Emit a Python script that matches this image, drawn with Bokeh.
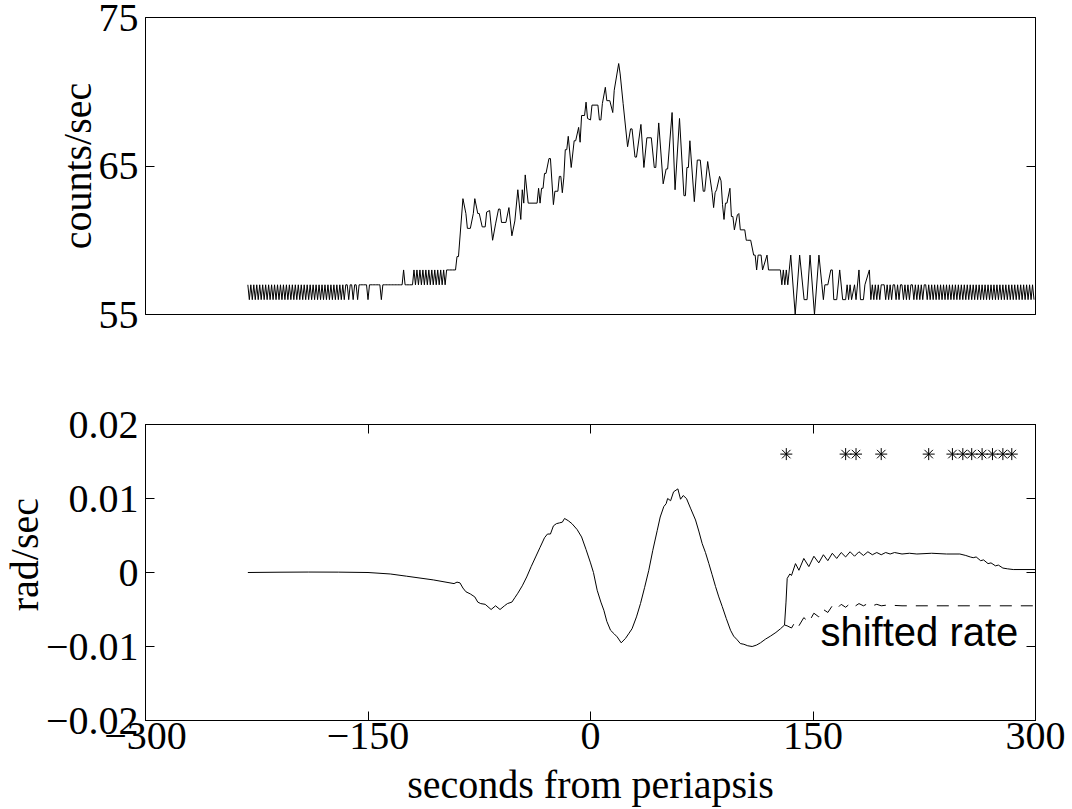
import numpy as np
from bokeh.plotting import figure
from bokeh.layouts import column, row
from bokeh.models import LinearAxis, FixedTicker, Range1d
from bokeh.core.properties import value
from bokeh.embed import file_html
from bokeh.resources import INLINE

SERIF = "Liberation Serif"
SANS = "Liberation Sans"

# ---------------- data ----------------
x_ticks = [-300, -150, 0, 150, 300]
x_tick_labels = ["\u2212300", "\u2212150", "0", "150", "300"]
counts_ticks = [55, 65, 75]
counts_tick_labels = ["55", "65", "75"]
rate_ticks = [-0.02, -0.01, 0, 0.01, 0.02]
rate_tick_labels = ["\u22120.02", "\u22120.01", "0", "0.01", "0.02"]

# counts/sec, 1 s samples starting at counts_a_start
counts_a_start = -231
counts_a = [57, 56, 57, 56, 57, 56, 57, 56, 57, 56, 57, 56, 57, 56, 57, 56,
            57, 56, 57, 56, 57, 56, 57, 56, 57, 56, 57, 56, 57, 56, 57, 56,
            57, 56, 57, 56, 57, 56, 57, 56, 57, 56, 57, 56, 57, 56, 57, 56,
            57, 56, 57, 56, 57, 56, 57, 56, 57, 56, 57, 56, 57, 56, 57, 56,
            57]
# 1 s samples starting at counts_b_start
counts_b_start = -166
counts_b = [56, 57, 57, 56, 57, 57, 56, 57, 57, 56,
            57, 57, 57, 57, 57, 57,
            56,
            57, 57, 57, 57, 57, 57, 57, 57,
            56,
            57, 57, 57, 57, 57, 57, 57, 57, 57, 57, 57, 57, 57, 57,
            58,
            57, 57, 57, 57, 57, 57,
            58, 57, 58, 57, 58, 57, 58, 57, 58, 57, 58, 57, 58, 57, 58, 57,
            58, 57, 58, 57, 58, 57, 58,
            58, 58, 58, 58, 58]
# read vertices (seconds, counts/sec)
counts_mid = [(-91, 58.0), (-90, 58.9), (-89, 58.9), (-86, 62.8), (-84, 61.8), (-83, 60.8),
              (-81, 60.8), (-79, 61.8), (-78, 62.8), (-76, 61.8), (-75, 61.8), (-73, 60.9),
              (-71, 60.9), (-70, 61.9), (-68, 62.0), (-66, 60.0), (-64, 61.1), (-62, 62.1),
              (-61, 62.1), (-60, 61.2), (-57, 61.2), (-55, 62.2), (-53, 60.3), (-51, 61.3),
              (-49, 63.4), (-47, 61.4), (-46, 63.4), (-45, 62.5), (-44, 64.4), (-42, 62.5),
              (-36, 62.5), (-35, 63.5), (-34, 62.5), (-33, 63.5), (-32, 63.5), (-31, 64.5),
              (-30, 64.5), (-28, 65.5), (-27, 65.5), (-25, 62.4), (-24, 63.3), (-22, 63.3),
              (-21, 64.3), (-20, 64.3), (-19, 63.2), (-18, 64.2), (-17, 66.1), (-16, 66.1),
              (-15, 67.0), (-13, 64.9), (-11, 66.7), (-10, 66.7), (-8, 67.6), (-7, 66.6),
              (-6, 68.4), (-4, 68.4), (-3, 69.3), (-2, 68.2), (0, 68.1), (1, 69.1),
              (5, 69.1), (6, 68.1), (7, 68.1), (8, 69.2), (10, 70.3), (11, 69.4),
              (13, 69.4), (15, 68.6), (16, 70.1), (19, 71.9), (20, 71.2), (22, 69.2),
              (25, 66.3), (27, 67.5), (28, 67.5), (30, 65.6), (31, 65.6), (34, 67.8),
              (36, 64.9), (38, 66.9), (41, 66.9), (43, 64.9), (44, 64.9), (46, 67.9),
              (49, 63.8), (51, 64.8), (52, 64.8), (55, 68.6), (57, 63.4), (60, 68.2),
              (63, 63.0), (64, 63.0), (65, 64.9), (66, 64.9), (67, 66.7), (70, 62.6),
              (72, 65.4), (74, 65.4), (76, 63.3), (77, 63.3), (79, 65.3), (82, 63.2),
              (83, 62.2), (84, 63.2), (85, 63.4), (87, 64.3), (88, 64.0), (89, 62.4),
              (90, 61.4), (91, 62.5), (92, 62.5), (94, 63.5), (95, 61.6), (96, 61.6),
              (97, 60.7), (99, 61.7), (100, 61.8), (101, 60.7), (104, 60.7), (105, 60.0),
              (106, 60.0), (108, 60.0), (110, 59.0), (111, 59.0), (112, 58.0), (113, 59.0),
              (115, 59.0), (116, 58.0), (119, 59.0), (120, 58.0), (128, 58.0), (129, 57.0),
              (130, 58.0), (131, 57.0), (132, 58.0), (133, 57.0), (134, 58.0), (135, 59.0),
              (138, 55.0), (141, 59.0), (144, 56.0), (146, 56.0), (148, 59.0), (151, 55.0),
              (154, 59.0), (156, 57.0), (157, 56.0), (158, 57.0), (160, 57.0), (162, 58.0),
              (163, 58.0), (164, 56.0), (166, 56.0), (168, 58.0), (170, 56.0), (172, 56.0),
              (173, 57.0), (174, 56.0), (175, 57.0), (176, 56.0), (178, 57.0), (179, 56.0),
              (181, 58.0), (182, 56.0), (184, 56.0), (185, 57.0), (188, 58.0), (189, 56.0),
              (190, 57.0)]
# 1 s samples starting at counts_e_start
counts_e_start = 191
counts_e = [56, 57, 56, 57, 56, 57, 57, 57, 56, 57,
            56, 57, 56, 57, 57, 56, 57, 56, 57, 57,
            56, 57, 56, 57, 56, 57, 57, 56, 57, 56,
            57, 56, 57, 56, 57, 57, 56, 57, 56, 57,
            56, 57, 56, 57, 56, 57, 56, 57, 56, 57,
            56, 57, 56, 57, 56, 57, 56, 57, 56, 57,
            56, 57, 56, 57, 56, 57, 56, 57, 56, 57,
            56, 57, 56, 57, 56, 57, 56, 57, 56, 57,
            56, 57, 56, 57, 56, 57, 56, 57, 56, 57,
            56, 57, 56, 57, 56, 57, 56, 57, 56, 57,
            56, 57, 56, 57, 56, 57, 56, 57, 56]

# rad/sec, read vertices (seconds, rate)
rate_pts = [(-231, 0.0), (-210, 0.00004), (-190, 0.00006), (-170, 0.00005), (-150, 0.0),
            (-135, -0.0002), (-124, -0.0005), (-106, -0.0010), (-92, -0.0015), (-90, -0.0013),
            (-88, -0.0014), (-86, -0.0021), (-84, -0.0026), (-81, -0.0029), (-78, -0.0033),
            (-76, -0.0040), (-74, -0.0042), (-71, -0.0043), (-67, -0.0050), (-64, -0.0045),
            (-61, -0.0050), (-58, -0.0045), (-56, -0.0042), (-53, -0.0040), (-51, -0.0034),
            (-49, -0.0028), (-46, -0.0018), (-43, -0.0006), (-40, 0.0008), (-37, 0.0021),
            (-34, 0.0034), (-31, 0.0047), (-29, 0.0052), (-27, 0.0052), (-25, 0.0063),
            (-23, 0.0066), (-21, 0.0067), (-19, 0.0068), (-17.5, 0.0073), (-15, 0.0070),
            (-12.5, 0.0066), (-9, 0.0058), (-6, 0.0048), (-3, 0.0031), (0, 0.0013),
            (2, 0.0000), (4.5, -0.0024), (7, -0.0040), (9, -0.0051), (11, -0.0066),
            (13.5, -0.0078), (16, -0.0083), (18, -0.0087), (20.7, -0.0095), (23.6, -0.0089),
            (26, -0.0082), (28, -0.0076), (31, -0.0060), (33.7, -0.0042), (36.5, -0.0020),
            (39.3, 0.0003), (42, 0.0030), (45, 0.0057), (47, 0.0075), (49.4, 0.0089),
            (51, 0.0093), (52, 0.0100), (54, 0.0097), (56, 0.0109), (58.9, 0.0113),
            (60.7, 0.0099), (62.5, 0.0104), (64.7, 0.0100), (67.4, 0.0087), (70.8, 0.0071),
            (73, 0.0056), (75.3, 0.0039), (77.5, 0.0027), (79.8, 0.0012), (82, -0.0003),
            (84.3, -0.0019), (86.5, -0.0033), (88.8, -0.0046), (91.5, -0.0062), (94.4, -0.0078),
            (96.5, -0.0086), (98.9, -0.0091), (101, -0.0096), (103.4, -0.0097), (106, -0.0099),
            (109, -0.0100), (112, -0.0098), (114.6, -0.0095), (118, -0.0090), (121.3, -0.0086),
            (125, -0.0081), (128.1, -0.0076), (130.8, -0.0071), (131.8, -0.0040), (132.6, -0.0008),
            (134.4, -0.0002), (135.5, -0.0004), (138.2, 0.0012), (140.5, 0.0003), (143.8, 0.0019),
            (147.2, 0.0008), (150.6, 0.0022), (153.9, 0.0013), (157, 0.0024), (160, 0.0016),
            (163, 0.0026), (166, 0.0019), (169, 0.0027), (172, 0.0021), (175, 0.0028),
            (178, 0.0022), (181, 0.0028), (184, 0.0023), (187, 0.0028), (190, 0.0024),
            (193, 0.0027), (196, 0.0024), (199, 0.0027), (202, 0.0025), (205, 0.0027),
            (210, 0.0025), (215, 0.0026), (220, 0.0025), (230, 0.0026), (240, 0.0025),
            (249, 0.0025), (253, 0.0023), (256, 0.0021), (258, 0.0020), (260, 0.0021),
            (263, 0.0016), (265, 0.0017), (268, 0.0012), (270, 0.0013), (273, 0.0009),
            (275, 0.0010), (278, 0.0006), (281, 0.0005), (285, 0.0004), (300, 0.0004)]

shifted_pts = [(130.8, -0.0071), (132.5, -0.0072), (135.5, -0.0075), (138.2, -0.0066),
               (140.5, -0.0072), (143.8, -0.0061), (147.2, -0.0067), (150.6, -0.0055),
               (153.9, -0.0060), (157, -0.0050), (160, -0.0054), (163, -0.0045),
               (166, -0.0049), (169, -0.0043), (172, -0.0047), (175, -0.0042),
               (178, -0.0046), (181, -0.0042), (184, -0.0045), (187, -0.0042),
               (190, -0.0045), (193, -0.0043), (196, -0.0045), (200, -0.0044),
               (210, -0.0045), (300, -0.0045)]

star_t = [132, 172, 179, 196, 228, 244, 251, 257, 264, 271, 278, 284]
star_level = 0.016

# ---------------- assemble series ----------------
ta = np.arange(counts_a_start, counts_a_start + len(counts_a))
tb = np.arange(counts_b_start, counts_b_start + len(counts_b))
tm = [p[0] for p in counts_mid]
vm = [p[1] for p in counts_mid]
te = np.arange(counts_e_start, counts_e_start + len(counts_e))
counts_t = np.concatenate([ta, tb, tm, te]).astype(float)
counts_v = np.concatenate([counts_a, counts_b, vm, counts_e]).astype(float)

rate_t = [p[0] for p in rate_pts]
rate_v = [p[1] for p in rate_pts]
sh_t = [p[0] for p in shifted_pts]
sh_v = [p[1] for p in shifted_pts]


def style_axis(ax, ticks, labels, show_labels, standoff=7, label_standoff=0):
    ax.ticker = FixedTicker(ticks=ticks)
    if show_labels:
        ax.major_label_overrides = dict(zip(ticks, labels))
    else:
        ax.major_label_overrides = {t: "" for t in ticks}
    ax.major_tick_in = 9
    ax.major_tick_out = 0
    ax.minor_tick_line_color = None
    ax.minor_tick_in = 0
    ax.minor_tick_out = 0
    ax.axis_line_color = "black"
    ax.axis_line_width = 1
    ax.major_tick_line_color = "black"
    ax.major_tick_line_width = 1
    ax.major_label_text_font = SERIF
    ax.major_label_text_font_size = "40px"
    ax.major_label_text_color = "black"
    ax.major_label_standoff = standoff if show_labels else 0
    ax.axis_label_text_font = SERIF
    ax.axis_label_text_font_size = "40px"
    ax.axis_label_text_font_style = "normal"
    ax.axis_label_text_color = "black"
    ax.axis_label_standoff = label_standoff


# ---------------- top panel ----------------
top = figure(frame_width=890, frame_height=297,
             x_range=Range1d(-300, 300), y_range=Range1d(55, 75),
             x_axis_location=None, y_axis_location="left",
             output_backend="svg", toolbar_location=None,
             min_border_left=145, min_border_right=37,
             min_border_top=17, min_border_bottom=55)
top.grid.visible = False
top.outline_line_color = "black"
top.outline_line_width = 1
top.background_fill_color = "white"
top.border_fill_color = "white"
style_axis(top.left[0], counts_ticks, counts_tick_labels, True, label_standoff=-4)
top.left[0].axis_label = "counts/sec"
r_axis = LinearAxis()
top.add_layout(r_axis, "right")
style_axis(r_axis, counts_ticks, counts_tick_labels, False)
top.line(counts_t, counts_v, line_color="black", line_width=1)

# ---------------- bottom panel ----------------
YLAB_W = 48
OVERLAP = 8
bot = figure(frame_width=890, frame_height=296,
             x_range=Range1d(-300, 300), y_range=Range1d(-0.02, 0.02),
             x_axis_location="below", y_axis_location="left",
             output_backend="svg", toolbar_location=None,
             min_border_left=145 - YLAB_W + OVERLAP, min_border_right=37,
             min_border_top=55, min_border_bottom=50,
             margin=(0, 0, 0, -OVERLAP))
bot.grid.visible = False
bot.outline_line_color = "black"
bot.outline_line_width = 1
bot.background_fill_color = "white"
bot.border_fill_alpha = 0
style_axis(bot.left[0], rate_ticks, rate_tick_labels, True)
style_axis(bot.below[0], x_ticks, x_tick_labels, True, standoff=2, label_standoff=10)
bot.below[0].axis_label = "seconds from periapsis"
ra = LinearAxis()
bot.add_layout(ra, "right")
style_axis(ra, rate_ticks, rate_tick_labels, False)
ta_ax = LinearAxis()
bot.add_layout(ta_ax, "above")
style_axis(ta_ax, x_ticks, x_tick_labels, False)

bot.line(rate_t, rate_v, line_color="black", line_width=1)
bot.line(sh_t, sh_v, line_color="black", line_width=1, line_dash="12 9")
bot.scatter(star_t, [star_level] * len(star_t), marker="asterisk", size=12,
            line_color="black", line_width=1)
bot.text(x=[155], y=[-0.0081], text=["shifted rate"], text_font=value(SANS),
         text_font_size="40px", text_color="black", text_align="left",
         text_baseline="middle")

# y label of the bottom panel, in its own narrow strip left of it
YLAB_H = 401
ylab = figure(width=YLAB_W, height=YLAB_H, x_range=Range1d(0, YLAB_W), y_range=Range1d(0, YLAB_H),
              x_axis_location=None, y_axis_location=None,
              output_backend="svg", toolbar_location=None,
              min_border=0, min_border_left=0, min_border_right=0,
              min_border_top=0, min_border_bottom=0)
ylab.grid.visible = False
ylab.outline_line_color = None
ylab.text(x=[23.5], y=[YLAB_H - 203], text=["rad/sec"], angle=np.pi / 2,
          text_font=value(SERIF), text_font_size="40px", text_color="black",
          text_align="center", text_baseline="middle")

layout = column(top, row(ylab, bot, spacing=0), spacing=0)
open("out.html", "w").write(file_html(layout, INLINE))
